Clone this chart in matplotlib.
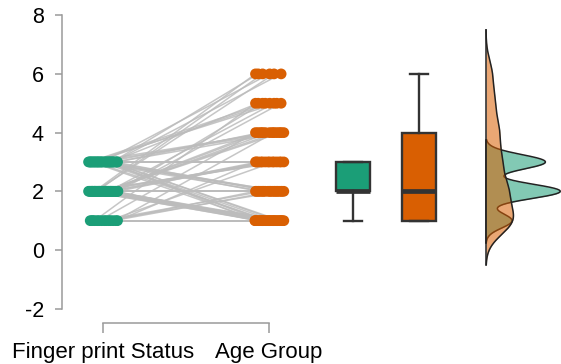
import numpy as np
import matplotlib
matplotlib.use('Agg')
import matplotlib.pyplot as plt

plt.rcParams['font.family'] = ['Liberation Sans', 'DejaVu Sans']

# Paired observations, one entry per subject (same order in both lists)
finger_print = [1] * 14 + [2] * 40 + [3] * 32
age_group = ([1, 2, 4, 3, 1, 5, 2, 2, 1, 3, 1, 4, 2, 1] +
             [1, 1, 2, 3, 4, 6, 1, 2, 3, 5, 1, 2, 4, 1, 3, 2, 1, 4, 6, 2] +
             [2, 1, 3, 1, 5, 4, 2, 1, 1, 3, 2, 6, 1, 4, 2, 1, 3, 5, 2, 1] +
             [1, 1, 2, 3, 4, 5, 6, 1, 2, 1, 3, 4, 1, 2, 5, 3] +
             [4, 1, 3, 2, 6, 5, 1, 3, 4, 2, 1, 6, 3, 5, 2, 4])
labels = ['Finger print Status', 'Age Group']
yticks = [-2, 0, 2, 4, 6, 8]

green = '#1b9e77'
orange = '#d95f02'
dark = '#333333'

# layout (horizontal units = pixels of the figure)
px_per_unit = 29.35
zero_px = 250
fig_w, fig_h = 561, 364
x_groups = [103, 269]
jitter_w = 15
box_pos = [353, 419.5]
kde_base = 486
kde_scale = 100
bw = [0.25, 0.5]


def jitter(values, centre, phase):
    # spread each level across the jitter width in a shuffled, deterministic
    # order (golden-ratio sequence) so the connecting lines cross
    values = np.asarray(values)
    xs = np.zeros(len(values), dtype=float)
    for v in np.unique(values):
        idx = np.where(values == v)[0]
        k = (np.arange(len(idx)) * 0.6180339887 + phase) % 1.0
        xs[idx] = centre + (k - 0.5) * 2 * jitter_w
    return xs


def kde(values, h):
    values = np.asarray(values, dtype=float)
    grid = np.linspace(values.min() - 3 * h, values.max() + 3 * h, 600)
    d = np.exp(-0.5 * ((grid[:, None] - values[None, :]) / h) ** 2).sum(axis=1)
    d /= len(values) * h * np.sqrt(2 * np.pi)
    return grid, d


fig = plt.figure(figsize=(fig_w / 100, fig_h / 100), dpi=100)
ax = fig.add_axes([0, 0, 1, 1])
ax.set_xlim(0, fig_w)
ax.set_ylim((zero_px - fig_h) / px_per_unit, zero_px / px_per_unit)
ax.patch.set_alpha(0)

# paired lines and points
x_fp = jitter(finger_print, x_groups[0], 0.13)
x_ag = jitter(age_group, x_groups[1], 0.05)
for x0, y0, x1, y1 in zip(x_fp, finger_print, x_ag, age_group):
    ax.plot([x0, x1], [y0, y1], color='#bcbcbc', lw=1.1, alpha=0.85, zorder=1)
ax.scatter(x_fp, finger_print, s=60, color=green, edgecolor='none', zorder=2)
ax.scatter(x_ag, age_group, s=60, color=orange, edgecolor='none', zorder=2)

# box plots
bp = ax.boxplot([finger_print, age_group], positions=box_pos, widths=34,
                capwidths=18, patch_artist=True, showfliers=False,
                manage_ticks=False)
for patch, c in zip(bp['boxes'], [green, orange]):
    patch.set_facecolor(c)
    patch.set_edgecolor(dark)
    patch.set_linewidth(1.7)
for part in ('whiskers', 'caps'):
    for line in bp[part]:
        line.set_color(dark)
        line.set_linewidth(1.7)
for line in bp['medians']:
    line.set_color(dark)
    line.set_linewidth(3.4)

# half densities, orange drawn over green
for i, (vals, c, h) in enumerate(zip([finger_print, age_group], [green, orange], bw)):
    g, d = kde(vals, h)
    z = 3 + 2 * i
    ax.fill_betweenx(g, kde_base, kde_base + d * kde_scale, color=c,
                     alpha=0.55, lw=0, zorder=z)
    ax.plot(kde_base + d * kde_scale, g, color='#222222', lw=1.1, zorder=z + 1)
    ax.plot([kde_base, kde_base], [g.min(), g.max()], color='#222222',
            lw=1.1, zorder=z + 1)

# axes
for side in ('top', 'right'):
    ax.spines[side].set_visible(False)
ax.spines['left'].set_position(('data', 62))
ax.spines['left'].set_bounds(-2, 8)
ax.spines['bottom'].set_position(('data', (zero_px - 322.5) / px_per_unit))
ax.spines['bottom'].set_bounds(*x_groups)
for side in ('left', 'bottom'):
    ax.spines[side].set_color('#9a9a9a')
    ax.spines[side].set_linewidth(1.1)

ax.set_yticks(yticks)
ax.set_yticklabels([str(t) for t in yticks])
ax.set_xticks(x_groups)
ax.set_xticklabels(labels)
ax.tick_params(axis='y', length=5, width=1.1, color='#9a9a9a', pad=8,
               labelsize=15.5)
ax.tick_params(axis='x', length=7, width=1.1, color='#9a9a9a', pad=7,
               labelsize=16)

fig.savefig('out.png', dpi=100)
